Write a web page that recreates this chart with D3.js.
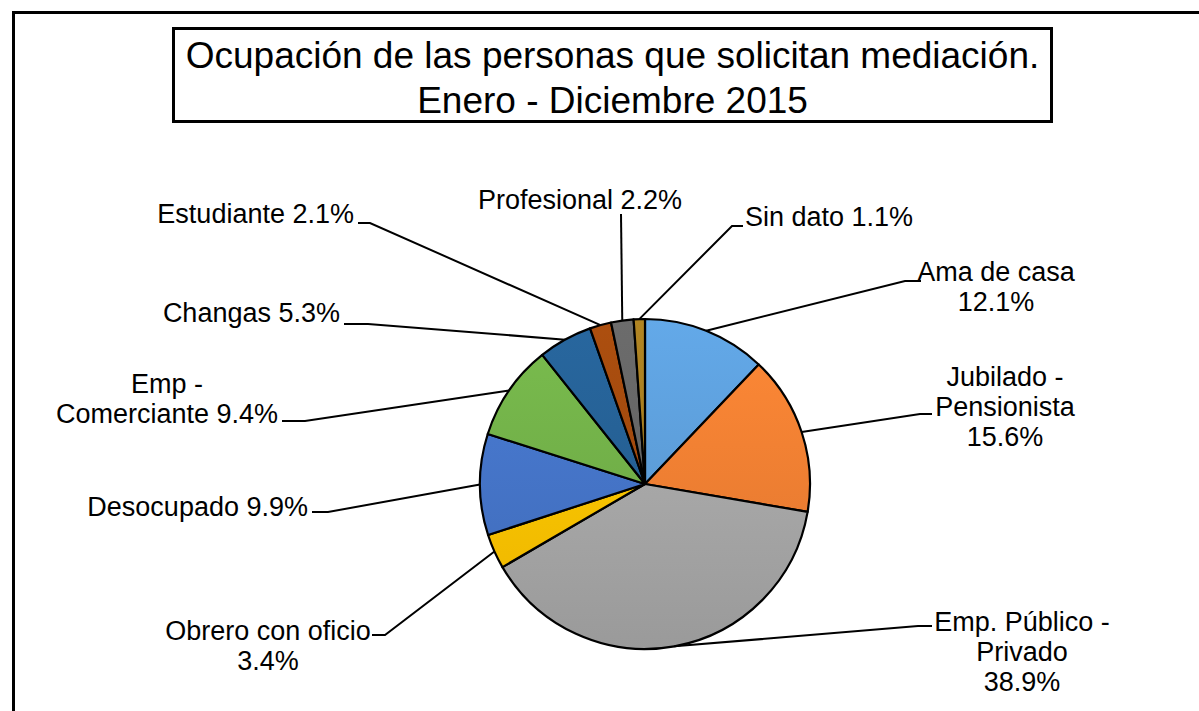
<!DOCTYPE html>
<html>
<head>
<meta charset="utf-8">
<script src="https://cdn.jsdelivr.net/npm/d3@7"></script>
<style>
  body { margin: 0; background: #fff; }
  svg { display: block; font-family: "Liberation Sans", Arial, sans-serif; }
</style>
</head>
<body>
<svg id="chart" width="1199" height="711"></svg>
<script>
// data
var categories = ["Ama de casa", "Jubilado -\nPensionista", "Emp. Público -\nPrivado", "Obrero con oficio",
                  "Desocupado", "Emp -\nComerciante", "Changas", "Estudiante", "Profesional", "Sin dato"];
var values = [12.1, 15.6, 38.9, 3.4, 9.9, 9.4, 5.3, 2.1, 2.2, 1.1];
var colors = ["#5B9BD5", "#ED7D31", "#A5A5A5", "#FFC000", "#4472C4",
              "#70AD47", "#255E91", "#9E480E", "#636363", "#A27A20"];
var titleLines = ["Ocupación de las personas que solicitan mediación.", "Enero - Diciembre 2015"];

// label layout: separator between name and value, text anchor/position, elbow of leader
var labelLayout = [
  {sep: "\n", anchor: "middle", x: 996,  y: 281, elbow: [905, 281], end: [921, 281]},
  {sep: "\n", anchor: "middle", x: 1005, y: 386, elbow: [920, 414], end: [932, 414]},
  {sep: "\n", anchor: "middle", x: 1022, y: 631, elbow: [918, 626], end: [932, 626]},
  {sep: "\n", anchor: "middle", x: 268,  y: 640, elbow: [385, 635], end: [372, 635]},
  {sep: " ",  anchor: "end",    x: 308,  y: 516, elbow: [328, 512], end: [312, 512]},
  {sep: " ",  anchor: "middle", x: 167,  y: 393, elbow: [305, 421], end: [282, 421]},
  {sep: " ",  anchor: "end",    x: 340,  y: 322, elbow: [368, 324], end: [344, 324]},
  {sep: " ",  anchor: "end",    x: 354,  y: 223, elbow: [370, 223], end: [358, 223]},
  {sep: " ",  anchor: "middle", x: 580,  y: 209, elbow: [621, 214], end: [621, 214]},
  {sep: " ",  anchor: "start",  x: 745,  y: 226, elbow: [732, 226], end: [743, 226]}
];

var svg = d3.select("#chart");
var cx = 645, cy = 484, r = 165;
var fmt = function(v){ return d3.format(".1f")(v) + "%"; };

// outer frame
svg.append("path")
   .attr("d", "M13.5,711V12.5H1199")
   .attr("fill", "none")
   .attr("stroke", "#000")
   .attr("stroke-width", 3);

// title box
svg.append("rect")
   .attr("x", 173.5).attr("y", 28.5)
   .attr("width", 878).attr("height", 93)
   .attr("fill", "#fff")
   .attr("stroke", "#000")
   .attr("stroke-width", 3);
svg.append("g").selectAll("text")
   .data(titleLines)
   .enter()
   .append("text")
   .attr("x", 612.5)
   .attr("y", function(d, i){ return 68 + i*45; })
   .attr("text-anchor", "middle")
   .attr("font-size", 37)
   .attr("fill", "#000")
   .text(function(d){ return d; });

// gradients (vertical, lighter at the top of the pie)
var defs = svg.append("defs");
colors.forEach(function(c, i){
  var g = defs.append("linearGradient")
              .attr("id", "grad" + i)
              .attr("gradientUnits", "userSpaceOnUse")
              .attr("x1", 0).attr("y1", -r)
              .attr("x2", 0).attr("y2", r);
  g.append("stop").attr("offset", "0%").attr("stop-color", d3.color(c).brighter(0.25));
  g.append("stop").attr("offset", "100%").attr("stop-color", d3.color(c).darker(0.2));
});

var data = categories.map(function(name, i){ return {name: name, value: values[i], i: i}; });
var pie = d3.pie().sort(null).value(function(d){ return d.value; });
var arcs = pie(data);
var arc = d3.arc().innerRadius(0).outerRadius(r);
var edge = d3.arc().innerRadius(r).outerRadius(r);

var g = svg.append("g").attr("transform", "translate(" + cx + "," + cy + ")");
g.selectAll("path")
 .data(arcs)
 .enter()
 .append("path")
 .attr("d", arc)
 .attr("fill", function(d){ return "url(#grad" + d.data.i + ")"; })
 .attr("stroke", "#000")
 .attr("stroke-width", 2.2)
 .attr("stroke-linejoin", "round");

// leader lines
svg.append("g").selectAll("polyline")
   .data(arcs)
   .enter()
   .append("polyline")
   .attr("points", function(d){
     var p = edge.centroid(d);
     var L = labelLayout[d.data.i];
     return [[cx + p[0], cy + p[1]], L.elbow, L.end].join(" ");
   })
   .attr("fill", "none")
   .attr("stroke", "#000")
   .attr("stroke-width", 2);

// labels
var labels = svg.append("g").selectAll("text")
   .data(arcs)
   .enter()
   .append("text")
   .attr("font-size", 27)
   .attr("fill", "#000")
   .attr("text-anchor", function(d){ return labelLayout[d.data.i].anchor; });
labels.each(function(d){
  var L = labelLayout[d.data.i];
  var lines = (d.data.name + L.sep + fmt(d.data.value)).split("\n");
  d3.select(this).selectAll("tspan")
    .data(lines)
    .enter()
    .append("tspan")
    .attr("x", L.x)
    .attr("y", function(t, k){ return L.y + k*30; })
    .text(function(t){ return t; });
});
</script>
</body>
</html>
